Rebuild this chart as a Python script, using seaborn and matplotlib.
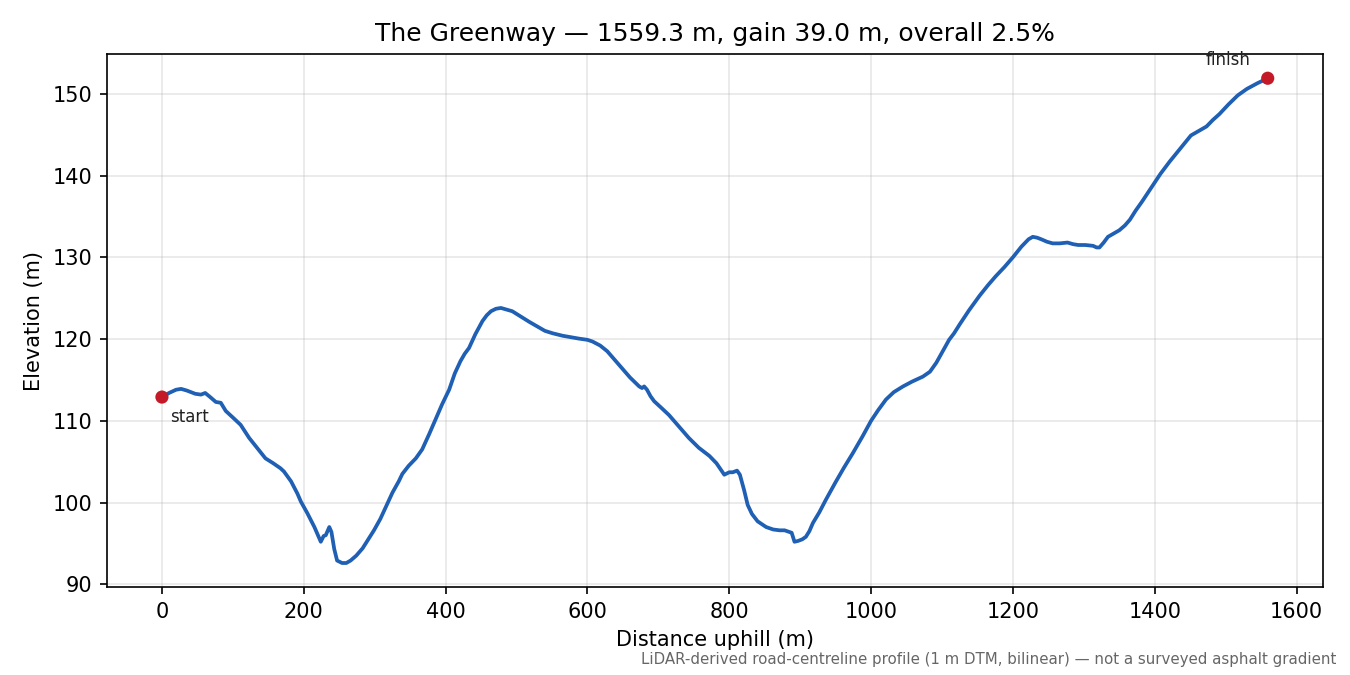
import numpy as np
import pandas as pd
import seaborn as sns
import matplotlib.pyplot as plt

# road profile
dist = [0, 10, 20, 27, 35, 47, 55, 61, 68, 76, 83, 90, 100, 111, 123, 135, 146, 157, 167, 172,
        182, 191, 196, 205, 215, 224, 228, 231, 236, 239, 243, 247, 254, 260, 266, 274, 283, 291, 299, 308,
        316, 325, 334, 339, 348, 358, 367, 377, 386, 395, 405, 413, 421, 427, 433, 442, 452, 458, 464, 471,
        478, 486, 494, 505, 518, 530, 540, 551, 565, 578, 588, 600, 607, 618, 628, 638, 649, 660, 673, 677,
        680, 684, 689, 694, 704, 715, 729, 743, 757, 772, 782, 793, 800, 805, 811, 815, 821, 826, 832, 840,
        852, 862, 871, 878, 885, 888, 892, 897, 903, 908, 913, 918, 927, 936, 950, 962, 974, 988, 1000, 1010,
        1021, 1032, 1045, 1058, 1073, 1083, 1092, 1101, 1110, 1117, 1125, 1138, 1153, 1165, 1176, 1188, 1200, 1212, 1222, 1228,
        1234, 1240, 1248, 1256, 1266, 1277, 1285, 1292, 1302, 1313, 1318, 1322, 1328, 1334, 1342, 1350, 1358, 1365, 1373, 1382,
        1395, 1408, 1421, 1436, 1451, 1461, 1473, 1482, 1491, 1504, 1517, 1530, 1545, 1559.3]
elev = [112.9, 113.4, 113.8, 113.9, 113.7, 113.3, 113.2, 113.4, 112.9, 112.3, 112.2, 111.2, 110.4, 109.5, 107.9, 106.6, 105.4, 104.8, 104.2, 103.8,
        102.6, 101.1, 100.1, 98.7, 97.0, 95.2, 95.9, 96.0, 97.0, 96.4, 94.3, 92.9, 92.6, 92.6, 92.9, 93.5, 94.4, 95.5, 96.6, 98.0,
        99.5, 101.2, 102.6, 103.5, 104.5, 105.4, 106.5, 108.4, 110.2, 112.0, 113.8, 115.8, 117.3, 118.2, 118.9, 120.6, 122.2, 122.9, 123.4, 123.7,
        123.8, 123.6, 123.4, 122.8, 122.1, 121.5, 121.0, 120.7, 120.4, 120.2, 120.05, 119.9, 119.7, 119.2, 118.5, 117.5, 116.4, 115.3, 114.2, 114.0,
        114.2, 113.8, 113.0, 112.4, 111.6, 110.7, 109.3, 107.9, 106.7, 105.7, 104.8, 103.4, 103.7, 103.7, 103.9, 103.4, 101.5, 99.7, 98.6, 97.7,
        97.0, 96.7, 96.6, 96.6, 96.4, 96.3, 95.2, 95.3, 95.5, 95.8, 96.5, 97.5, 98.8, 100.3, 102.5, 104.3, 106.0, 108.1, 110.0, 111.3,
        112.6, 113.5, 114.2, 114.8, 115.4, 116.0, 117.1, 118.5, 119.9, 120.7, 121.8, 123.5, 125.3, 126.6, 127.7, 128.8, 130.0, 131.3, 132.2, 132.5,
        132.4, 132.2, 131.9, 131.7, 131.7, 131.8, 131.6, 131.5, 131.5, 131.4, 131.2, 131.2, 131.8, 132.5, 132.9, 133.3, 133.9, 134.6, 135.7, 136.8,
        138.5, 140.2, 141.7, 143.3, 144.9, 145.4, 146.0, 146.8, 147.5, 148.7, 149.8, 150.6, 151.3, 151.9]

title = "The Greenway \u2014 1559.3 m, gain 39.0 m, overall 2.5%"
note = "LiDAR-derived road-centreline profile (1 m DTM, bilinear) \u2014 not a surveyed asphalt gradient"

df = pd.DataFrame({'dist': dist, 'elev': elev})
ends = df.iloc[[0, -1]]

fig, ax = plt.subplots(figsize=(9, 4.5), dpi=150)
fig.subplots_adjust(left=0.079, right=0.98, top=0.92, bottom=0.13)

sns.lineplot(data=df, x='dist', y='elev', color='#1f5fb4', linewidth=1.8, ax=ax)
sns.scatterplot(data=ends, x='dist', y='elev', color='#c41a28', s=40, edgecolor='none', zorder=3, ax=ax)

ax.annotate('start', (dist[0], elev[0]), xytext=(4, -9.5), textcoords='offset points',
            fontsize=8, ha='left', va='center', color='#222222')
ax.annotate('finish', (dist[-1], elev[-1]), xytext=(-19, 8.6), textcoords='offset points',
            fontsize=8, ha='center', va='center', color='#222222')

ax.grid(True, alpha=0.3)
ax.set_xlabel('Distance uphill (m)')
ax.set_ylabel('Elevation (m)')
ax.set_title(title, fontsize=12)
fig.text(0.99, 0.012, note, ha='right', va='bottom', fontsize=7.2, color='#666666')

plt.savefig('out.png')
